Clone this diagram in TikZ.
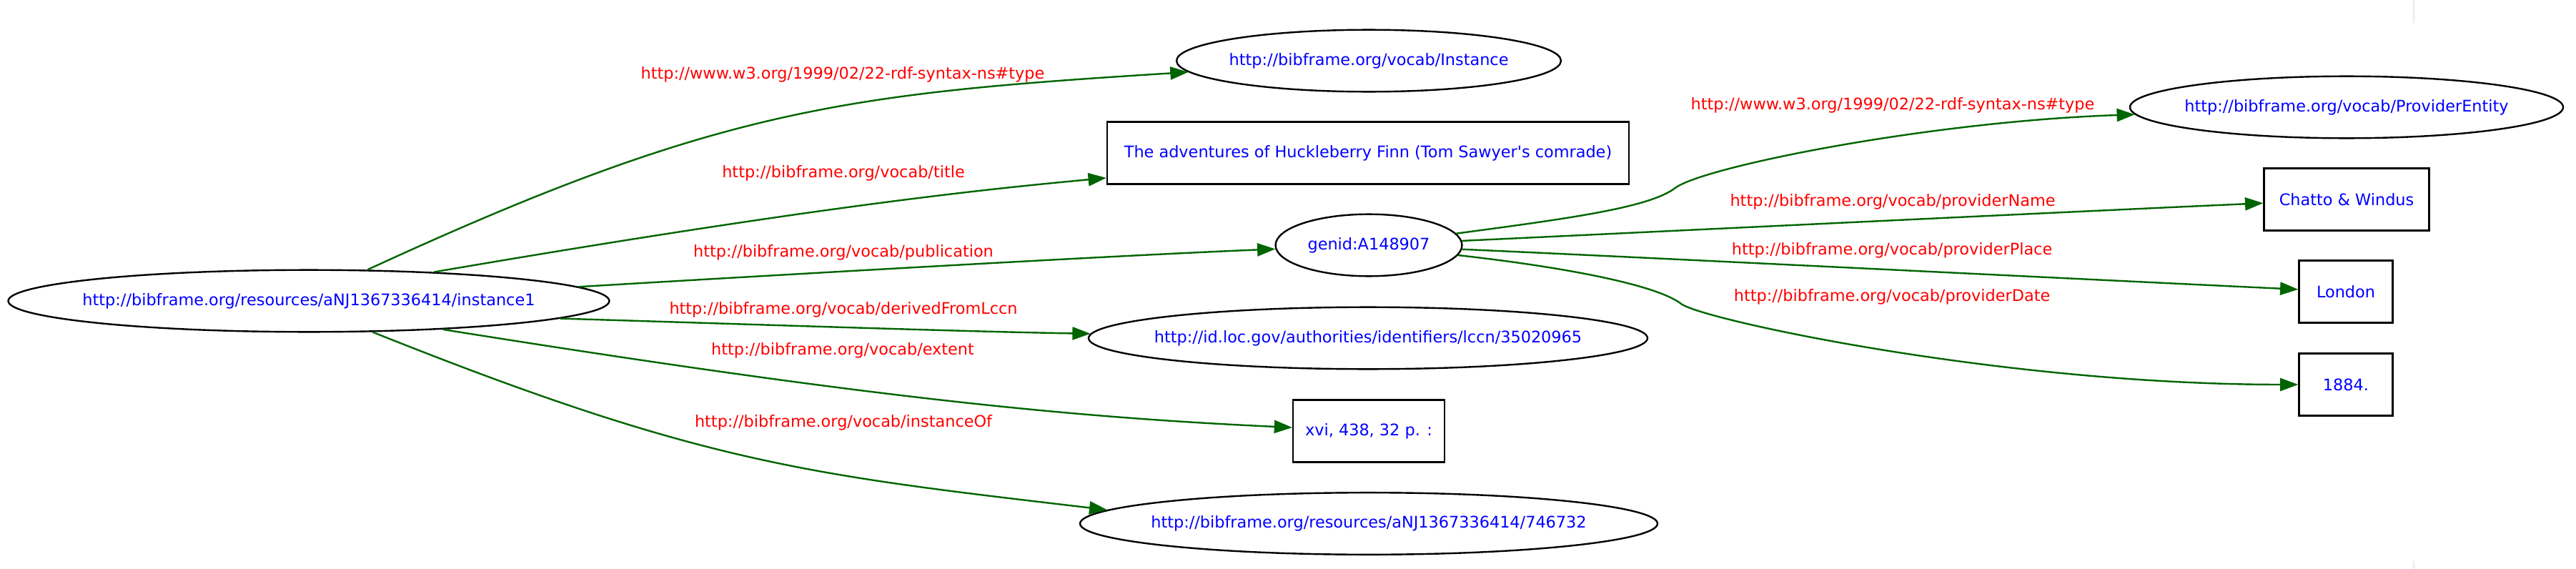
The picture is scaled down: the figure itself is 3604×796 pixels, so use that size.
\documentclass[tikz,border=0pt]{standalone}
\usepackage{fontspec}
\setmainfont{DejaVu Sans}
\usetikzlibrary{shapes.geometric,arrows.meta}
\definecolor{uriblue}{RGB}{0,0,255}
\definecolor{propred}{RGB}{255,0,0}
\definecolor{linkgreen}{RGB}{0,100,0}
\definecolor{pagemark}{RGB}{228,236,248}
\begin{document}
\begin{tikzpicture}[x=0.4155pt, y=-0.4155pt,
    res/.style={draw, ellipse, line width=1pt, minimum height=36pt, inner xsep=-80pt, inner ysep=0pt, text=uriblue, font=\fontsize{9.3}{11}\selectfont},
    lit/.style={draw, rectangle, line width=1pt, minimum height=36pt, inner sep=0pt, text=uriblue, font=\fontsize{9.3}{11}\selectfont},
    link/.style={color=linkgreen, line width=1pt, -{Triangle[length=10.5pt, width=7.5pt]}},
    prop/.style={text=propred, inner sep=0pt, font=\fontsize{9.3}{11}\selectfont}]
    \useasboundingbox (0,0) rectangle (3604,796);
    \node[res, minimum width=349.4pt] (inst) at (432,421) {http://bibframe.org/resources/aNJ1367336414/instance1};
    \node[res, minimum width=223.5pt] (cls) at (1915,85) {http://bibframe.org/vocab/Instance};
    \node[lit, minimum width=303.3pt] (title) at (1914,214) {The adventures of Huckleberry Finn (Tom Sawyer\textquotesingle s comrade)};
    \node[res, minimum width=108.4pt] (genid) at (1915,343) {genid:A148907};
    \node[res, minimum width=324.9pt] (lccn) at (1914,473) {http://id.loc.gov/authorities/identifiers/lccn/35020965};
    \node[lit, minimum width=87.9pt] (extent) at (1915,603) {xvi, 438, 32 p. :};
    \node[res, minimum width=335.7pt] (work) at (1915,732.5) {http://bibframe.org/resources/aNJ1367336414/746732};
    \node[res, minimum width=251.8pt] (provider) at (3283,150) {http://bibframe.org/vocab/ProviderEntity};
    \node[lit, minimum width=96pt] (name) at (3283,279) {Chatto \& Windus};
    \node[lit, minimum width=54.4pt] (place) at (3282,408) {London};
    \node[lit, minimum width=54.4pt] (date) at (3282,538) {1884.};
    \draw[link] (inst.28) .. controls (1005,151) and (1183,131) .. (cls);
    \draw[link] (inst.13) .. controls (1162,285.5) and (1388.5,264) .. (title);
    \draw[link] (inst.3) .. controls (1100,384) and (1550,358) .. (genid);
    \draw[link] (inst.-4) .. controls (1000,452) and (1350,464) .. (lccn);
    \draw[link] (inst.-12) .. controls (1196,553) and (1482,583) .. (extent);
    \draw[link] (inst.-26) .. controls (985.5,650) and (1132,664) .. (work.177);
    \draw[link] (genid) .. controls (2200,305) and (2310,290) .. (2345,262) .. controls (2390,232) and (2700,170) .. (provider);
    \draw[link] (genid) .. controls (2300,325) and (2900,296) .. (name);
    \draw[link] (genid) .. controls (2300,360) and (2900,390) .. (place);
    \draw[link] (genid) .. controls (2200,375) and (2320,400) .. (2352,425) .. controls (2380,447) and (2800,538) .. (date);
    \node[prop] (typeA) at (1179,104) {http://www.w3.org/1999/02/22-rdf-syntax-ns\#type};
    \node[prop] (titleP) at (1180,242) {http://bibframe.org/vocab/title};
    \node[prop] (pubP) at (1180,353) {http://bibframe.org/vocab/publication};
    \node[prop] (lccnP) at (1180,433) {http://bibframe.org/vocab/derivedFromLccn};
    \node[prop] (extentP) at (1179,490) {http://bibframe.org/vocab/extent};
    \node[prop] (workP) at (1180,591.5) {http://bibframe.org/vocab/instanceOf};
    \node[prop] (typeB) at (2648,147) {http://www.w3.org/1999/02/22-rdf-syntax-ns\#type};
    \node[prop] (nameP) at (2648,282) {http://bibframe.org/vocab/providerName};
    \node[prop] (placeP) at (2647,350) {http://bibframe.org/vocab/providerPlace};
    \node[prop] (dateP) at (2647,415) {http://bibframe.org/vocab/providerDate};
    \draw[pagemark, line width=1.2pt] (3377,0) -- (3377,32);
    \draw[pagemark, line width=1.2pt] (3377,785) -- (3377,796);
\end{tikzpicture}
\end{document}
